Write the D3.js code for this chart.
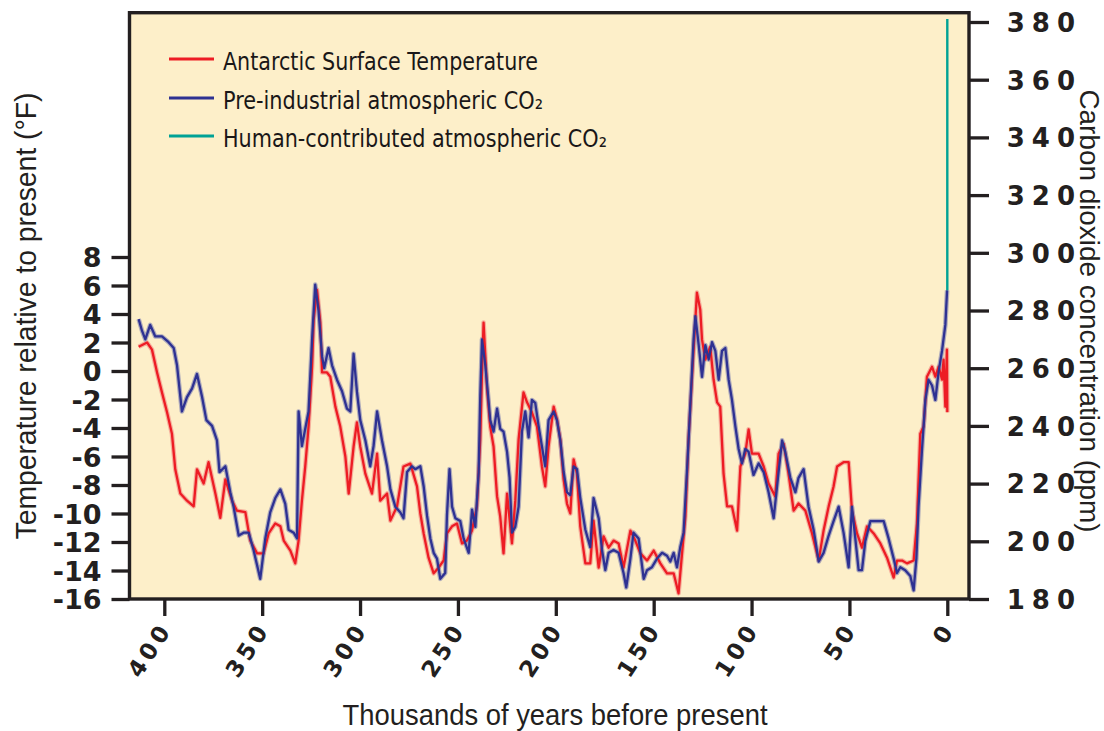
<!DOCTYPE html>
<html><head><meta charset="utf-8">
<script src="https://cdn.jsdelivr.net/npm/d3@7"></script>
<style>body{margin:0;background:#fff}</style>
</head><body>
<svg id="c" width="1104" height="731"></svg>
<script>
// ---- data (thousands of years before present) ----
const tempAge = [413.1,408.8,406.3,403.7,401.2,398.6,396.1,394.4,391.8,388.4,385.0,383.3,379.9,377.4,373.9,371.4,368.8,365.4,362.9,358.6,356.1,352.6,349.3,346.7,343.3,340.7,339.0,335.6,333.1,331.4,329.7,328.0,326.3,324.5,323.7,322.0,320.3,319.4,316.9,315.2,312.6,310.1,307.5,305.8,303.3,301.6,299.9,297.3,293.9,291.3,289.7,286.2,284.5,281.1,277.8,274.3,270.9,269.2,267.5,265.0,262.4,259.9,257.3,255.6,253.0,250.5,247.9,245.4,242.8,240.3,238.6,237.7,236.9,235.1,233.5,231.8,230.0,228.4,226.7,224.9,222.4,220.7,219.0,216.5,214.7,212.2,209.6,207.1,205.4,203.7,201.1,199.4,197.7,196.0,194.3,192.6,190.9,189.2,187.5,184.9,182.4,180.7,178.1,175.6,173.0,170.5,167.9,165.4,161.9,159.4,156.8,153.4,150.0,146.6,143.2,139.8,137.3,135.5,133.8,132.2,130.4,127.9,126.2,125.3,123.6,121.1,119.4,117.6,116.0,114.3,112.5,110.0,107.4,105.7,103.2,101.5,99.8,96.4,93.8,91.3,87.9,86.2,83.6,81.1,78.5,76.0,72.5,69.1,65.7,63.2,60.6,58.1,56.3,53.0,50.4,48.7,46.1,43.6,41.0,37.6,34.2,30.8,27.4,25.7,23.1,20.6,17.2,15.5,13.8,12.1,10.4,7.8,6.1,4.4,2.7,1.9,1.0,0.2,0.0];
const tempValues = [1.7,2.0,1.5,-0.1,-1.5,-2.9,-4.4,-6.9,-8.6,-9.1,-9.5,-6.9,-7.9,-6.4,-8.6,-10.3,-7.6,-9.1,-9.8,-9.9,-11.9,-12.8,-12.8,-11.4,-10.7,-10.9,-11.9,-12.6,-13.5,-11.9,-9.1,-6.7,-3.9,0.3,3.6,5.7,3.4,-0.1,-0.1,-0.4,-2.5,-3.9,-6.0,-8.6,-5.3,-3.6,-5.3,-7.2,-8.6,-5.8,-9.1,-8.6,-10.5,-9.5,-6.7,-6.5,-8.1,-10.0,-11.4,-13.1,-14.2,-13.8,-13.3,-11.4,-10.9,-10.7,-12.1,-11.9,-11.2,-9.5,-4.8,-0.1,3.4,-1.3,-3.9,-5.3,-8.8,-10.2,-12.8,-8.6,-12.1,-9.1,-4.8,-1.5,-2.2,-2.9,-3.9,-6.7,-8.1,-5.3,-2.5,-3.4,-4.8,-7.6,-9.3,-10.0,-6.2,-7.2,-10.9,-13.5,-13.5,-10.5,-13.8,-11.6,-12.4,-11.9,-12.1,-13.8,-11.2,-11.9,-12.8,-13.3,-12.6,-13.5,-14.2,-14.2,-15.6,-12.8,-10.2,-4.8,-0.4,5.5,4.3,2.2,0.8,1.7,-0.6,-2.2,-2.5,-7.2,-9.5,-9.5,-11.2,-6.7,-5.8,-4.1,-5.8,-5.8,-6.7,-7.9,-8.8,-5.8,-5.1,-7.2,-9.8,-9.3,-9.8,-11.4,-13.3,-11.2,-9.5,-8.1,-6.7,-6.4,-6.4,-9.8,-11.4,-12.4,-10.9,-11.4,-12.1,-13.1,-14.5,-13.3,-13.3,-13.5,-13.3,-10.7,-4.4,-3.9,-0.4,0.3,-0.4,0.3,-0.6,0.8,-2.5,1.5,-2.9];

const co2Age = [413.1,411.4,409.7,407.2,404.6,401.2,397.8,395.2,393.5,391.0,388.4,385.8,383.3,380.7,378.5,375.6,373.1,371.8,368.8,366.3,364.6,362.0,359.5,356.9,354.4,351.0,348.4,345.9,343.3,340.7,338.2,336.5,333.9,332.2,331.4,329.7,328.0,326.3,324.5,322.9,321.2,319.4,318.3,316.1,314.3,311.8,309.2,306.7,305.0,303.3,301.6,299.9,297.3,294.8,293.1,291.3,288.8,286.2,284.5,282.0,279.4,277.8,276.0,273.5,271.8,269.2,267.5,265.8,264.1,262.4,260.7,259.0,256.5,255.6,254.3,253.0,251.3,248.8,247.1,244.5,242.8,241.1,239.4,238.6,237.7,236.0,234.8,233.5,231.8,230.0,228.4,226.7,224.9,223.6,222.4,220.7,219.0,217.3,215.6,213.9,212.2,210.5,208.8,207.1,205.4,203.7,201.1,199.4,197.7,196.0,194.3,192.6,190.9,189.2,187.5,184.9,182.4,180.7,178.1,176.4,174.7,173.0,170.5,167.9,165.4,164.0,161.9,160.3,157.7,155.1,153.4,150.9,148.3,145.7,143.2,141.5,139.8,138.1,136.4,134.7,133.0,131.3,129.6,128.7,127.0,125.3,123.6,121.9,120.2,118.5,116.8,115.1,113.4,111.7,110.0,108.3,106.6,104.9,103.2,101.5,99.0,96.4,93.8,91.3,88.7,86.2,84.4,82.8,80.2,77.6,76.0,73.4,70.9,68.3,65.7,63.2,60.6,58.1,55.5,53.0,50.4,48.7,47.0,45.3,43.6,41.9,39.3,35.9,32.5,30.0,27.4,25.7,24.0,21.5,18.9,17.2,15.8,14.7,12.9,11.2,9.6,7.8,6.1,4.4,2.7,1.0,0.1];
const co2Values = [277,273,270,275,271,271,269,267,261,245,250,253,258,250,242,240,235,224,226,217,212,202,203,203,197,187,201,210,215,218,213,204,203,201,245,233,239,245,270,289,280,264,260,267,261,256,252,246,245,265,252,242,235,226,233,245,235,226,218,212,210,208,224,226,225,226,219,209,201,196,194,187,189,209,225,212,208,207,201,196,211,205,224,250,270,261,252,242,238,246,239,238,231,222,203,205,212,238,245,236,249,248,240,233,226,242,245,242,235,224,217,216,226,225,215,204,198,215,208,197,190,196,197,196,189,184,194,203,201,187,190,191,194,196,195,193,196,191,198,203,224,247,270,278,268,257,268,263,269,266,256,266,267,256,249,240,232,227,232,231,223,227,224,217,208,224,235,231,222,217,222,225,212,204,193,196,202,207,212,203,191,212,201,190,190,200,207,207,207,201,194,189,191,190,188,183,194,212,232,249,256,254,249,259,266,275,287];

const humanAge = [0, 0];
const humanValues = [287, 381];

const ageTicks = [400, 350, 300, 250, 200, 150, 100, 50, 0];
const tempTicks = [8, 6, 4, 2, 0, -2, -4, -6, -8, -10, -12, -14, -16];
const co2Ticks = [180, 200, 220, 240, 260, 280, 300, 320, 340, 360, 380];
const legendLabels = ["Antarctic Surface Temperature", "Pre-industrial atmospheric CO\u2082", "Human-contributed atmospheric CO\u2082"];
const legendColors = ["#ed1c24", "#2e3192", "#00a295"];

// ---- drawing ----
const svg = d3.select("#c");
const ink = "#231f20";
const x = d3.scaleLinear().domain([400, 0]).range([164.3, 947.3]);
const yT = d3.scaleLinear().domain([-16, 8]).range([599, 257]);
const yC = d3.scaleLinear().domain([180, 380]).range([599, 22]);

const frame = {x0: 129.5, y0: 12.7, x1: 969, y1: 599};
svg.append("rect").attr("x", frame.x0).attr("y", frame.y0)
  .attr("width", frame.x1 - frame.x0).attr("height", frame.y1 - frame.y0)
  .attr("fill", "#fdefc9");

const tempData = tempAge.map((a, i) => [a, tempValues[i]]);
const co2Data = co2Age.map((a, i) => [a, co2Values[i]]);
const humanData = humanAge.map((a, i) => [a, humanValues[i]]);

const lineT = d3.line().x(d => x(d[0])).y(d => yT(d[1]));
const lineC = d3.line().x(d => x(d[0])).y(d => yC(d[1]));

const g = svg.append("g").attr("fill", "none").attr("stroke-linejoin", "round");
g.append("path").attr("d", lineT(tempData)).attr("stroke", "#f39a8c").attr("stroke-width", 4.6).attr("opacity", 0.75);
g.append("path").attr("d", lineC(co2Data)).attr("stroke", "#9494b6").attr("stroke-width", 4.6).attr("opacity", 0.75);
g.append("path").attr("d", lineT(tempData)).attr("stroke", "#ed1c24").attr("stroke-width", 2.3);
g.append("path").attr("d", lineC(co2Data)).attr("stroke", "#2e3192").attr("stroke-width", 2.3);
g.append("path").attr("d", lineC(humanData)).attr("stroke", "#00a295").attr("stroke-width", 2.4);

// frame border
svg.append("rect").attr("x", frame.x0).attr("y", frame.y0)
  .attr("width", frame.x1 - frame.x0).attr("height", frame.y1 - frame.y0)
  .attr("fill", "none").attr("stroke", ink).attr("stroke-width", 3.4);

// left axis
const axL = svg.append("g").attr("transform", `translate(${frame.x0},0)`)
  .call(d3.axisLeft(yT).tickValues(tempTicks).tickSize(18).tickPadding(10)
    .tickFormat(d => (d < 0 ? "-" : "") + Math.abs(d)));
axL.select(".domain").remove();
axL.selectAll(".tick line").attr("stroke", ink).attr("stroke-width", 3.3);
axL.selectAll(".tick text").attr("fill", ink)
  .style("font-family", "'DejaVu Sans', sans-serif").style("font-weight", "bold").style("font-size", "27px")
  .attr("dy", "0.36em");

// right axis
const axR = svg.append("g").attr("transform", `translate(${frame.x1},0)`)
  .call(d3.axisRight(yC).tickValues(co2Ticks).tickSize(20).tickPadding(10));
axR.select(".domain").remove();
axR.selectAll(".tick line").attr("stroke", ink).attr("stroke-width", 3.3);
axR.selectAll(".tick text").attr("fill", ink).attr("text-anchor", "end").attr("x", 113)
  .style("font-family", "'DejaVu Sans', sans-serif").style("font-weight", "bold").style("font-size", "26px")
  .style("letter-spacing", "7px").attr("dy", "0.36em");

// bottom axis
const axB = svg.append("g").attr("transform", `translate(0,${frame.y1})`)
  .call(d3.axisBottom(x).tickValues(ageTicks).tickSize(17).tickFormat(d3.format("d")));
axB.select(".domain").remove();
axB.selectAll(".tick line").attr("stroke", ink).attr("stroke-width", 3.3);
axB.selectAll(".tick text").attr("fill", ink).attr("text-anchor", "end")
  .attr("y", null).attr("dy", null)
  .attr("transform", "translate(8,30) rotate(-57)")
  .style("font-family", "'DejaVu Sans', sans-serif").style("font-weight", "bold").style("font-size", "23px")
  .style("letter-spacing", "4px");

// axis titles
const titleFont = "'Liberation Sans', Arial, sans-serif";
svg.append("text").attr("transform", "translate(36,316) rotate(-90)")
  .attr("text-anchor", "middle").attr("fill", ink)
  .style("font-family", titleFont).style("font-size", "30px")
  .attr("textLength", 447).attr("lengthAdjust", "spacingAndGlyphs")
  .text("Temperature relative to present (°F)");
svg.append("text").attr("transform", "translate(1080,311) rotate(90)")
  .attr("text-anchor", "middle").attr("fill", ink)
  .style("font-family", titleFont).style("font-size", "27px")
  .attr("textLength", 443).attr("lengthAdjust", "spacingAndGlyphs")
  .text("Carbon dioxide concentration (ppm)");
svg.append("text").attr("x", 555).attr("y", 725)
  .attr("text-anchor", "middle").attr("fill", ink)
  .style("font-family", titleFont).style("font-size", "30px")
  .attr("textLength", 425).attr("lengthAdjust", "spacingAndGlyphs")
  .text("Thousands of years before present");

// legend
const legRowY = [59, 98, 136];
const legLen = [315, 320, 384];
const leg = svg.append("g");
legendLabels.forEach((lab, i) => {
  leg.append("line").attr("x1", 169).attr("x2", 214).attr("y1", legRowY[i]).attr("y2", legRowY[i])
    .attr("stroke", legendColors[i]).attr("stroke-width", 3);
  leg.append("text").attr("x", 223).attr("y", legRowY[i] + 10.5).attr("fill", "#1a1718")
    .style("font-family", "'DejaVu Sans', sans-serif").style("font-size", "24px")
    .attr("textLength", legLen[i]).attr("lengthAdjust", "spacingAndGlyphs")
    .text(lab);
});
</script>
</body></html>
